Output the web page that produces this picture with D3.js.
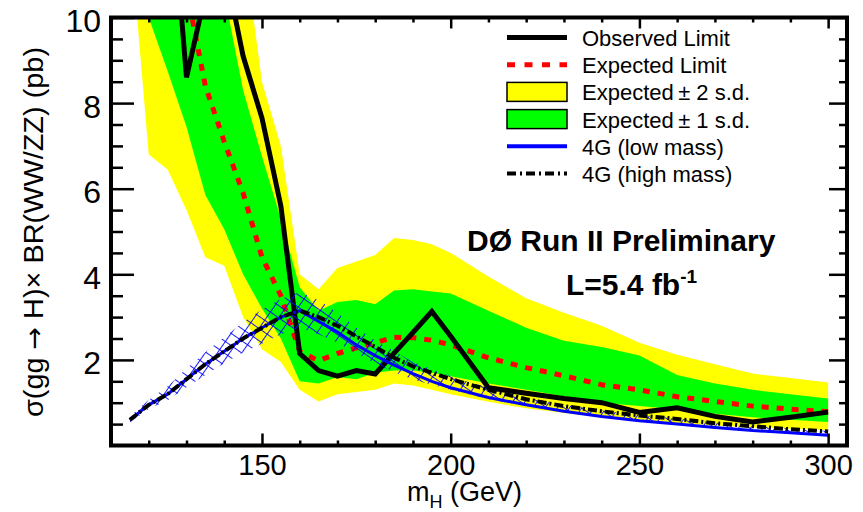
<!DOCTYPE html>
<html>
<head>
<meta charset="utf-8">
<script src="https://cdn.jsdelivr.net/npm/d3@7"></script>
<style>
  body { margin: 0; background: #fff; }
  svg { display: block; }
  text { font-family: "Liberation Sans", Arial, Helvetica, sans-serif; fill: #000; }
</style>
</head>
<body>
<svg id="chart" width="863" height="512"></svg>
<script>
// Higgs mass points (GeV)
const mass = [115,120,125,130,135,140,145,150,155,160,165,170,175,180,185,190,195,200,
              210,220,230,240,250,260,270,280,290,300];

// 95% CL limits on sigma(gg->H) x BR(H->WW/ZZ) in pb
const observed = [25,18,14,8.6,10.55,11.25,9.1,7.65,5.6,2.15,1.75,1.62,1.75,1.67,2.16,2.64,3.13,2.55,
                  1.35,1.22,1.1,1.0,0.77,0.88,0.68,0.55,0.66,0.78];
const expected = [20,16,13,10.65,8.4,7.1,5.9,4.4,3.5,2.2,1.98,2.15,2.28,2.4,2.53,2.52,2.46,2.35,
                  2.05,1.82,1.63,1.42,1.3,1.14,1.03,0.92,0.85,0.79];
const oneSigmaLo = [13,10.0,8.75,7.45,5.85,5.05,4.0,3.2,2.5,1.5,1.45,1.6,1.55,1.7,1.75,1.75,1.7,1.62,
                    1.45,1.3,1.15,1.0,0.92,0.84,0.74,0.66,0.6,0.55];
const oneSigmaHi = [18,16,14,13,12,10.55,8.3,6.75,5.3,3.7,3.15,3.35,3.4,3.3,3.62,3.65,3.6,3.55,
                    3.15,2.75,2.45,2.3,2.1,1.65,1.45,1.3,1.2,1.1];
const twoSigmaLo = [12,6.8,6.45,5.5,4.4,4.2,3.0,2.25,1.95,1.3,1.03,1.2,1.25,1.3,1.45,1.4,1.3,1.2,
                    1.02,0.87,0.76,0.66,0.58,0.52,0.47,0.42,0.39,0.36];
const twoSigmaHi = [30,25,20,18,16,14,11.8,8.5,7.0,4.0,3.65,4.15,4.3,4.45,4.85,4.8,4.7,4.5,
                    3.95,3.44,3.1,2.8,2.4,2.12,1.9,1.68,1.58,1.47];

// Fourth-generation model predictions
const fourGHigh = [0.6,0.95,1.2,1.55,1.9,2.2,2.5,2.75,3.0,3.15,3.0,2.8,2.55,2.3,2.05,1.85,1.7,1.55,
                   1.3,1.08,0.92,0.8,0.7,0.62,0.52,0.45,0.38,0.33];
const fourGLow  = [0.6,0.95,1.2,1.55,1.9,2.2,2.5,2.75,3.0,3.15,2.9,2.65,2.35,2.1,1.88,1.68,1.5,1.35,
                   1.12,0.95,0.8,0.68,0.58,0.5,0.42,0.35,0.3,0.24];
// theory uncertainty band on the 4G prediction
const fourGBandLo = [0.54,0.85,1.06,1.36,1.65,1.92,2.17,2.38,2.6,2.75,2.6,2.4,2.15,1.92,1.72,1.54,1.42,1.3,
                     1.08,0.92,0.78,0.66,0.57,0.49,0.41,0.35,0.3,0.24];
const fourGBandHi = [0.68,1.07,1.38,1.8,2.18,2.53,2.88,3.18,3.42,3.58,3.4,3.1,2.75,2.46,2.2,1.95,1.78,1.62,
                     1.35,1.12,0.96,0.82,0.72,0.63,0.54,0.47,0.4,0.34];

// axis ticks
const xMajor = [150,200,250,300];
const xMinor = [120,130,140,160,170,180,190,210,220,230,240,260,270,280,290];
const yMajor = [2,4,6,8,10];
const yMinor = [0.5,1,1.5,2.5,3,3.5,4.5,5,5.5,6.5,7,7.5,8.5,9,9.5];

const legendLabels = ["Observed Limit","Expected Limit","Expected\u2009\u00b1 2 s.d.",
                      "Expected\u2009\u00b1 1 s.d.","4G (low mass)","4G (high mass)"];

const svg = d3.select("#chart");
const x = d3.scaleLinear().domain([110,305]).range([111,847]);
const y = d3.scaleLinear().domain([0,10]).range([445.5,17.5]);

svg.append("rect").attr("width",863).attr("height",512).attr("fill","#fff");

const defs = svg.append("defs");
defs.append("clipPath").attr("id","plotArea")
  .append("rect")
  .attr("x",x(110)).attr("y",y(10))
  .attr("width",x(305)-x(110)).attr("height",y(0)-y(10));

const hatch = defs.append("pattern").attr("id","hatch")
  .attr("patternUnits","userSpaceOnUse")
  .attr("width",10).attr("height",10)
  .attr("patternTransform","rotate(35)");
hatch.append("line").attr("x1",0).attr("y1",0).attr("x2",0).attr("y2",10)
  .attr("stroke","#0000ff").attr("stroke-width",1.8);
hatch.append("line").attr("x1",0).attr("y1",0).attr("x2",10).attr("y2",0)
  .attr("stroke","#0000ff").attr("stroke-width",1.8);

const plot = svg.append("g").attr("clip-path","url(#plotArea)");

const band = (lo,hi) => d3.area()
  .x((d,i) => x(mass[i]))
  .y0((d,i) => y(lo[i]))
  .y1((d,i) => y(hi[i]));
const curve = vals => d3.line()
  .x((d,i) => x(mass[i]))
  .y((d,i) => y(vals[i]));

plot.append("path").datum(mass).attr("d",band(twoSigmaLo,twoSigmaHi)).attr("fill","#ffff00");
plot.append("path").datum(mass).attr("d",band(oneSigmaLo,oneSigmaHi)).attr("fill","#00ff00");

plot.append("path").datum(mass).attr("d",curve(expected))
  .attr("fill","none").attr("stroke","#ff0000").attr("stroke-width",5)
  .attr("stroke-dasharray","7,8");
plot.append("path").datum(mass).attr("d",curve(observed))
  .attr("fill","none").attr("stroke","#000").attr("stroke-width",5)
  .attr("stroke-linejoin","miter");
plot.append("path").datum(mass).attr("d",band(fourGBandLo,fourGBandHi)).attr("fill","url(#hatch)");
plot.append("path").datum(mass).attr("d",curve(fourGLow))
  .attr("fill","none").attr("stroke","#0000ff").attr("stroke-width",3);
plot.append("path").datum(mass).attr("d",curve(fourGHigh))
  .attr("fill","none").attr("stroke","#000").attr("stroke-width",4)
  .attr("stroke-dasharray","9,3,2,3");

// axes with inward ticks on all four sides
function styleAxis(g) {
  g.select(".domain").remove();
  g.selectAll(".tick line").attr("stroke","#000").attr("stroke-width",2.5);
}
const bottomY = y(0), topY = y(10), leftX = x(110), rightX = x(305);

svg.append("g").attr("transform",`translate(0,${bottomY})`)
  .call(d3.axisBottom(x).tickValues(xMajor).tickSize(-12).tickPadding(9).tickFormat(d3.format("d")))
  .call(styleAxis)
  .call(g => g.selectAll("text").attr("font-size",29).attr("font-family",null));
svg.append("g").attr("transform",`translate(0,${bottomY})`)
  .call(d3.axisBottom(x).tickValues(xMinor).tickSize(-5).tickFormat(""))
  .call(styleAxis);
svg.append("g").attr("transform",`translate(0,${topY})`)
  .call(d3.axisTop(x).tickValues(xMajor).tickSize(-11).tickFormat(""))
  .call(styleAxis);
svg.append("g").attr("transform",`translate(0,${topY})`)
  .call(d3.axisTop(x).tickValues(xMinor).tickSize(-5).tickFormat(""))
  .call(styleAxis);

svg.append("g").attr("transform",`translate(${leftX},0)`)
  .call(d3.axisLeft(y).tickValues(yMajor).tickSize(-23).tickPadding(10).tickFormat(d3.format("d")))
  .call(styleAxis)
  .call(g => g.selectAll("text").attr("font-size",32).attr("font-family",null).attr("dy","0.44em"));
svg.append("g").attr("transform",`translate(${leftX},0)`)
  .call(d3.axisLeft(y).tickValues(yMinor).tickSize(-12).tickFormat(""))
  .call(styleAxis);
svg.append("g").attr("transform",`translate(${rightX},0)`)
  .call(d3.axisRight(y).tickValues(yMajor).tickSize(-18).tickFormat(""))
  .call(styleAxis);
svg.append("g").attr("transform",`translate(${rightX},0)`)
  .call(d3.axisRight(y).tickValues(yMinor).tickSize(-8).tickFormat(""))
  .call(styleAxis);

svg.append("rect")
  .attr("x",leftX).attr("y",topY)
  .attr("width",rightX-leftX).attr("height",bottomY-topY)
  .attr("fill","none").attr("stroke","#000").attr("stroke-width",4);

// axis titles
const yt = svg.append("text")
  .attr("transform","translate(43,232) rotate(-90)")
  .attr("text-anchor","middle").attr("font-size",28)
  .attr("textLength",370).attr("lengthAdjust","spacingAndGlyphs");
yt.append("tspan").text("\u03c3(gg ");
yt.append("tspan").attr("font-family","DejaVu Sans").attr("font-size",26).text("\u2192");
yt.append("tspan").text(" H)\u00d7 BR(WW/ZZ) (pb)");

const xt = svg.append("text").attr("x",407).attr("y",501).attr("font-size",27);
xt.append("tspan").text("m");
xt.append("tspan").attr("font-size",18).attr("dy",7).text("H");
xt.append("tspan").attr("dy",-7).text(" (GeV)");

// legend
const legend = svg.append("g");
const lx0 = 507, lx1 = 567, ltx = 582;
legendLabels.forEach((label,i) => {
  const base = 46 + 27.2*i, cy = base - 8.5;
  const row = legend.append("g");
  if (i === 0) {
    row.append("line").attr("x1",lx0).attr("x2",lx1).attr("y1",cy).attr("y2",cy)
      .attr("stroke","#000").attr("stroke-width",5);
  } else if (i === 1) {
    row.append("line").attr("x1",lx0).attr("x2",lx1).attr("y1",cy).attr("y2",cy)
      .attr("stroke","#ff0000").attr("stroke-width",5).attr("stroke-dasharray","8,9.5");
  } else if (i === 2 || i === 3) {
    row.append("rect").attr("x",lx0).attr("y",cy-9.5).attr("width",lx1-lx0).attr("height",19)
      .attr("fill", i === 2 ? "#ffff00" : "#00ff00").attr("stroke","#000").attr("stroke-width",1.5);
  } else if (i === 4) {
    row.append("line").attr("x1",lx0).attr("x2",lx1).attr("y1",cy).attr("y2",cy)
      .attr("stroke","#0000ff").attr("stroke-width",4);
  } else {
    row.append("line").attr("x1",lx0).attr("x2",lx1).attr("y1",cy).attr("y2",cy)
      .attr("stroke","#000").attr("stroke-width",4).attr("stroke-dasharray","9,4,2,4");
  }
  row.append("text").attr("x",ltx).attr("y",base).attr("font-size",22).text(label);
});

// experiment label
svg.append("text").attr("x",467).attr("y",251)
  .attr("font-size",30).attr("font-weight","bold").text("D\u00d8 Run II Preliminary");
const lumi = svg.append("text").attr("x",566).attr("y",295)
  .attr("font-size",30).attr("font-weight","bold");
lumi.append("tspan").text("L=5.4 fb");
lumi.append("tspan").attr("font-size",19).attr("dy",-12).text("-1");
</script>
</body>
</html>
